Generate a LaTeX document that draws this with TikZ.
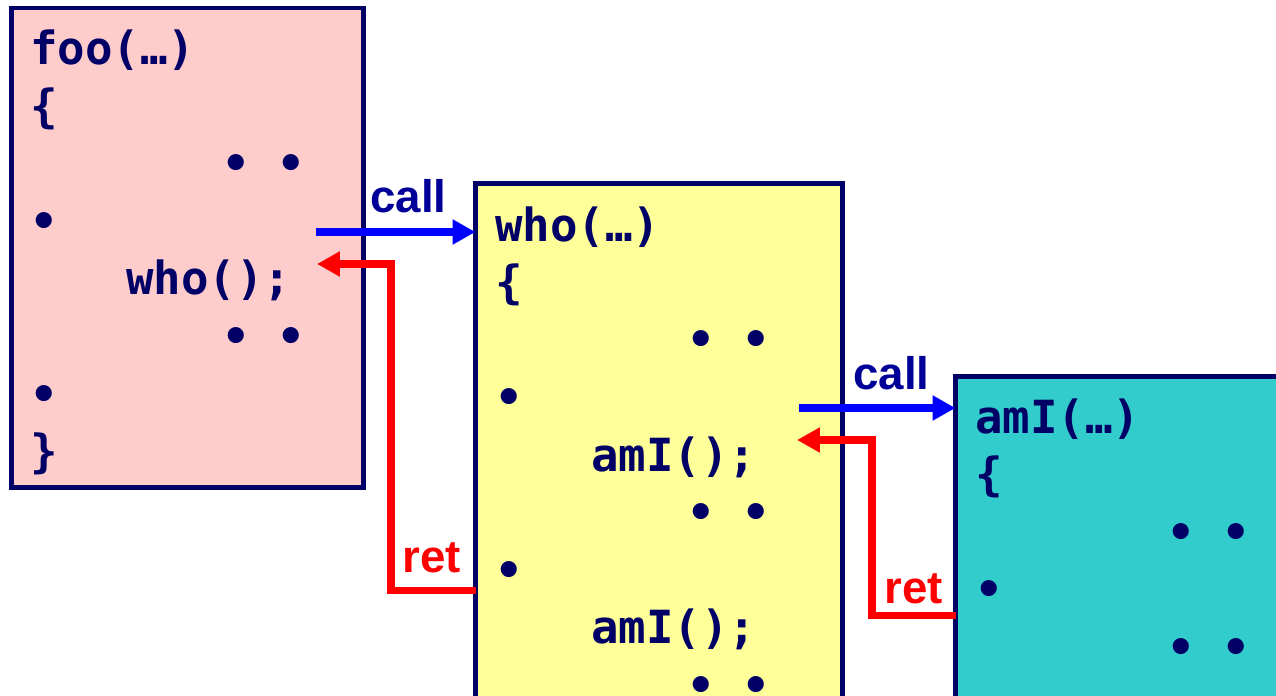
\documentclass[tikz,border=0pt]{standalone}
\usepackage{fontspec}
\setmainfont{Liberation Sans}
\setsansfont{Liberation Sans}
\setmonofont{DejaVu Sans Mono}
\usepackage{tikz}
\usetikzlibrary{arrows.meta}
\definecolor{codenavy}{RGB}{0, 0, 102}
\definecolor{callblue}{RGB}{0, 0, 153}
\definecolor{foopink}{RGB}{255, 204, 204}
\definecolor{whoyellow}{RGB}{255, 255, 153}
\definecolor{amicyan}{RGB}{51, 204, 204}

\begin{document}
\begin{tikzpicture}[
  x=0.02cm, y=-0.02cm,
  frame/.style={
    rectangle, draw=codenavy, line width=2.7pt,
    inner sep=0pt, outer sep=0pt, anchor=north west
  },
  code/.style={
    anchor=base west, inner sep=0pt, text=codenavy,
    font=\fontsize{26}{31}\selectfont\ttfamily\bfseries
  },
  lbl/.style={
    anchor=base west, inner sep=0pt,
    font=\fontsize{26}{31}\selectfont\sffamily\bfseries
  },
  callarrow/.style={-{Triangle[length=13pt, width=13.5pt]}, line width=4pt, blue},
  retarrow/.style={-{Triangle[length=13pt, width=13.5pt]}, line width=4pt, red}
]

\useasboundingbox (0,0) rectangle (1276,696);
\clip (0,0) rectangle (1276,696);

% stack frames
\node[frame, fill=foopink,   minimum width=7.04cm, minimum height=9.59cm]  (foo) at (11.5,8) {};
\node[frame, fill=whoyellow, minimum width=7.34cm, minimum height=10.73cm] (who) at (475.5,183.5) {};
\node[frame, fill=amicyan,   minimum width=6.89cm, minimum height=6.87cm]  (ami) at (955.5,376.5) {};

% foo
\node[code] (foo1) at (30,65)      {foo(…)};
\node[code] (foo2) at (30,122.5)   {\{};
\node[code] (foo3) at (222.5,180)  {• •};
\node[code] (foo4) at (30,237.5)   {•};
\node[code] (foo5) at (126,295)    {who();};
\node[code] (foo6) at (222.5,352.5){• •};
\node[code] (foo7) at (30,410)     {•};
\node[code] (foo8) at (30,467.5)   {\}};

% who
\node[code] (who1) at (495,241)    {who(…)};
\node[code] (who2) at (495,298.5)  {\{};
\node[code] (who3) at (687.5,356)  {• •};
\node[code] (who4) at (495,413.5)  {•};
\node[code] (who5) at (591,471)    {amI();};
\node[code] (who6) at (687.5,528.5){• •};
\node[code] (who7) at (495,586)    {•};
\node[code] (who8) at (591,643.5)  {amI();};
\node[code] (who9) at (687.5,701)  {• •};

% amI
\node[code] (ami1) at (975,433)     {amI(…)};
\node[code] (ami2) at (975,490.5)   {\{};
\node[code] (ami3) at (1167.5,548)  {• •};
\node[code] (ami4) at (975,605.5)   {•};
\node[code] (ami5) at (1167.5,663)  {• •};

% call / ret
\coordinate (foocall) at (316,232);
\coordinate (fooret)  at (317,264);
\coordinate (whoback) at (391,590.5);
\coordinate (whocall) at (799,408);
\coordinate (whoret)  at (797,440);
\coordinate (amiback) at (872,615.5);

\draw[callarrow] (foocall) -- (foocall -| who.west);
\draw[retarrow] (whoback -| who.west) -- (whoback) |- (fooret);
\draw[callarrow] (whocall) -- (whocall -| ami.west);
\draw[retarrow] (amiback -| ami.west) -- (amiback) |- (whoret);

\node[lbl, text=callblue] (call1) at (370,213) {call};
\node[lbl, text=red]      (ret1)  at (402,572) {ret};
\node[lbl, text=callblue] (call2) at (853,389) {call};
\node[lbl, text=red]      (ret2)  at (884,603) {ret};

\end{tikzpicture}
\end{document}
